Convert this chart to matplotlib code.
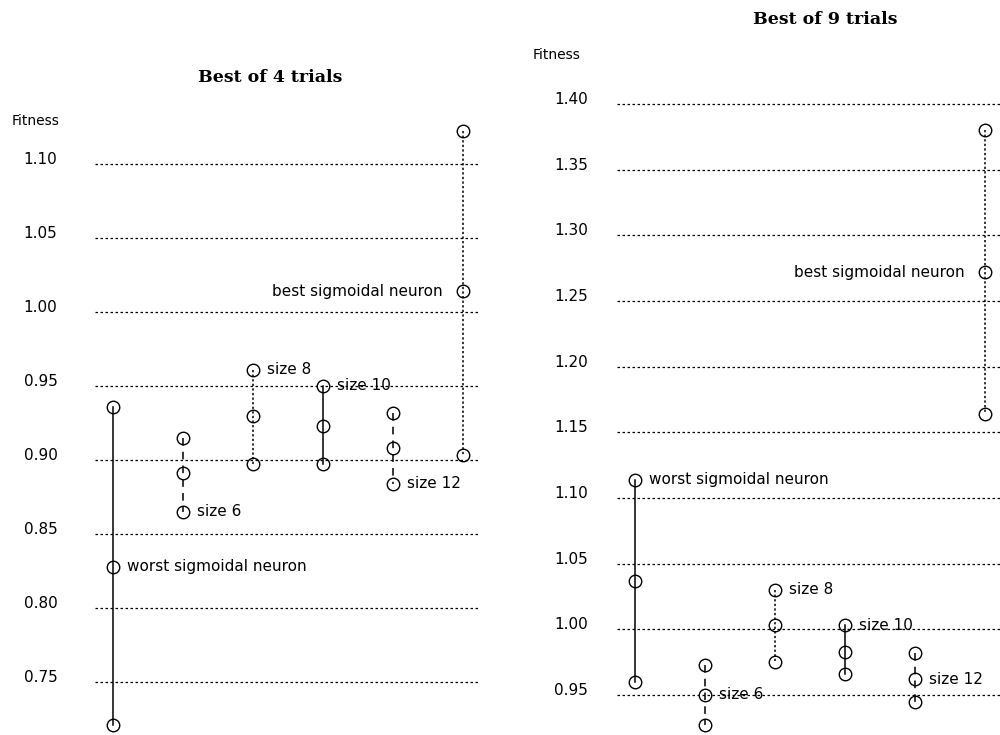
import matplotlib
matplotlib.use("Agg")
import matplotlib.pyplot as plt

# one column per network configuration
groups = ["worst sigmoidal neuron", "size 6", "size 8", "size 10", "size 12",
          "best sigmoidal neuron"]

# best of 4 trials: high / middle / low fitness of each column
best4_high = [0.936, 0.915, 0.961, 0.950, 0.932, 1.122]
best4_mid = [0.828, 0.891, 0.930, 0.923, 0.908, 1.014]
best4_low = [0.721, 0.865, 0.897, 0.897, 0.884, 0.903]
best4_ticks = [0.75, 0.80, 0.85, 0.90, 0.95, 1.00, 1.05, 1.10]

# best of 9 trials
best9_high = [1.114, 0.973, 1.030, 1.003, 0.982, 1.380]
best9_mid = [1.037, 0.950, 1.003, 0.983, 0.962, 1.272]
best9_low = [0.960, 0.927, 0.975, 0.966, 0.945, 1.164]
best9_ticks = [0.95, 1.00, 1.05, 1.10, 1.15, 1.20, 1.25, 1.30, 1.35, 1.40]

styles = ["-", (0, (5, 4)), (0, (1.5, 1.5)), "-", (0, (5, 4)), (0, (1.5, 1.5))]


def panel(ax, high, mid, low, ticks, label_at, ylim, xlim, pad):
    ax.set_xlim(*xlim)
    ax.set_ylim(*ylim)
    for s in ax.spines.values():
        s.set_visible(False)
    ax.set_xticks([])
    ax.set_yticks(ticks)
    ax.set_yticklabels(["%.2f" % t for t in ticks])
    ax.tick_params(axis="y", length=0, pad=pad, labelsize=11)
    for lab in ax.get_yticklabels():
        lab.set_verticalalignment("baseline")
    for t in ticks:
        ax.axhline(t, color="black", lw=0.9, ls=(0, (2, 2)), zorder=1)

    for i, name in enumerate(groups):
        vals = [high[i], mid[i], low[i]]
        ax.plot([i, i, i], vals, color="black", lw=1.1, ls=styles[i],
                marker="o", ms=9, mfc="none", mec="black", mew=1,
                clip_on=False, zorder=3)
        y = {"high": high[i], "mid": mid[i], "low": low[i]}[label_at[i]]
        if name.startswith("best"):
            ax.annotate(name, (i, y), xytext=(-20, 0), textcoords="offset pixels",
                        ha="right", va="center", fontsize=11)
        else:
            ax.annotate(name, (i, y), xytext=(14, 0), textcoords="offset pixels",
                        ha="left", va="center", fontsize=11)


fig = plt.figure(figsize=(10, 7.35), dpi=100)

ax1 = fig.add_axes([0.095, 0.0, 0.385, 620 / 735])
panel(ax1, best4_high, best4_mid, best4_low, best4_ticks,
      ["mid", "low", "high", "high", "low", "mid"],
      (0.7142, 1.133), (-0.257, 5.243), 27)

ax2 = fig.add_axes([0.617, 0.0, 0.383, 645 / 735])
panel(ax2, best9_high, best9_mid, best9_low, best9_ticks,
      ["high", "mid", "high", "high", "mid", "mid"],
      (0.9195, 1.4108), (-0.257, 5.214), 21)

fig.text(270 / 1000, 1 - 78 / 735, "Best of 4 trials", ha="center", va="center",
         family="DejaVu Serif", weight="bold", fontsize=12.5)
fig.text(825 / 1000, 1 - 20 / 735, "Best of 9 trials", ha="center", va="center",
         family="DejaVu Serif", weight="bold", fontsize=12.5)
fig.text(12 / 1000, 1 - 121 / 735, "Fitness", ha="left", va="center", fontsize=10)
fig.text(533 / 1000, 1 - 55 / 735, "Fitness", ha="left", va="center", fontsize=10)

fig.savefig("out.png", dpi=100, facecolor="white")
